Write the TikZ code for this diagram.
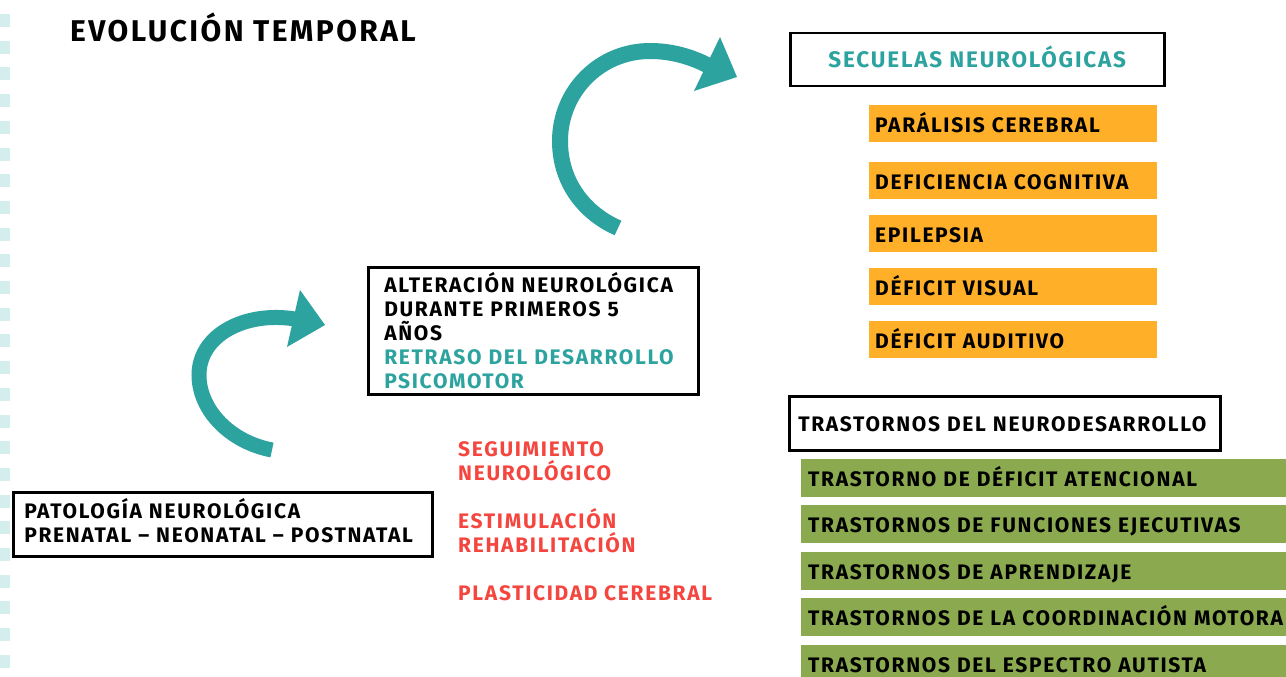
\documentclass[tikz,border=0pt]{standalone}
\usepackage{fontspec}
\setmainfont{Fira Sans}[LetterSpace=8]
\definecolor{tealc}{HTML}{2DA39F}
\definecolor{orng}{HTML}{FFB028}
\definecolor{grn}{HTML}{8BAA4F}
\definecolor{redt}{HTML}{F4463F}
\definecolor{sqc}{HTML}{D4EDED}
\begin{document}
\begin{tikzpicture}[x=1pt,y=-1pt,
  txt/.style={font=\bfseries\fontsize{21}{24}\selectfont},
  frame/.style={draw=black,line width=2.5pt,txt,anchor=north west,align=left},
  bar/.style={txt,anchor=north west,align=left,text height=14.5pt,text depth=0pt},
  orangebar/.style={bar,fill=orng,minimum width=288,minimum height=37,inner xsep=6,text width=276,text height=18pt},
  greenbar/.style={bar,fill=grn,minimum height=38,inner xsep=7,text width=540,text height=16pt},
  bigarrow/.style={draw=tealc,line width=16pt},
  smallarrow/.style={draw=tealc,line width=15pt},
  head/.style={fill=tealc}]
\clip (0,0) rectangle (1286,677);
\fill[white] (0,0) rectangle (1286,677);
% left edge squares
\foreach \k in {0,...,24} \fill[sqc] (0,14+26.7*\k) rectangle (10,27+26.7*\k);

% title
\node[txt,font=\bfseries\fontsize{30}{32}\selectfont,anchor=base west,inner sep=0] (title) at (70,42) {EVOLUCIÓN TEMPORAL};

% boxes
\node[frame,minimum width=419,minimum height=64,inner xsep=11,text width=397] (pat) at (12,491)
  {\mbox{PATOLOGÍA NEUROLÓGICA}\\\mbox{PRENATAL – NEONATAL – POSTNATAL}\rule[-7pt]{0pt}{7pt}};
\node[frame,minimum width=330,minimum height=127,inner xsep=16,text width=298] (alt) at (367,266)
  {\mbox{ALTERACIÓN NEUROLÓGICA}\\\mbox{DURANTE PRIMEROS 5}\\AÑOS\\\mbox{\textcolor{tealc}{RETRASO DEL DESARROLLO}}\\\textcolor{tealc}{PSICOMOTOR}};
\node[frame,align=center,minimum width=374,minimum height=53,text height=16.5pt,text depth=0pt,text=tealc,font=\bfseries\fontsize{22.5}{24}\selectfont] (sec) at (789,32)
  {SECUELAS NEUROLÓGICAS};
\node[frame,minimum width=431,minimum height=54,inner xsep=9,text width=413,text height=15.5pt,text depth=0pt] (tnd) at (788,395)
  {\mbox{TRASTORNOS DEL NEURODESARROLLO}};

% orange bars
\node[orangebar] (o1) at (869,105) {PARÁLISIS CEREBRAL};
\node[orangebar] (o2) at (869,162) {DEFICIENCIA COGNITIVA};
\node[orangebar] (o3) at (869,215) {EPILEPSIA};
\node[orangebar] (o4) at (869,268) {DÉFICIT VISUAL};
\node[orangebar] (o5) at (869,321) {DÉFICIT AUDITIVO};

% green bars
\node[greenbar] (g1) at (801,459) {TRASTORNO DE DÉFICIT ATENCIONAL};
\node[greenbar] (g2) at (801,505) {TRASTORNOS DE FUNCIONES EJECUTIVAS};
\node[greenbar] (g3) at (801,552) {TRASTORNOS DE APRENDIZAJE};
\node[greenbar] (g4) at (801,598) {TRASTORNOS DE LA COORDINACIÓN MOTORA};
\node[greenbar] (g5) at (801,645) {TRASTORNOS DEL ESPECTRO AUTISTA};

% red text
\node[txt,text=redt,anchor=north west,align=left,inner sep=0] (red) at (458,441.5)
  {SEGUIMIENTO\\NEUROLÓGICO\\[24pt]ESTIMULACIÓN\\REHABILITACIÓN\\[24pt]PLASTICIDAD CEREBRAL};

% big arrow
\coordinate (b0) at (618,228);
\coordinate (b1) at (560,141);
\coordinate (b2) at (650,51);
\coordinate (b3) at (709,66);
\draw[bigarrow] (b0) .. controls (582,212) and (560,180) .. (b1)
  .. controls (560,91) and (600,51) .. (b2)
  .. controls (672,51) and (692,57) .. (b3);
\fill[head] (720,37) -- (737,77) -- (694,91) -- cycle;

% small arrow
\coordinate (s0) at (272,450);
\coordinate (s1) at (199,375);
\coordinate (s2) at (295,319);
\draw[smallarrow] (s0) .. controls (230,442) and (199,410) .. (s1)
  .. controls (199,335) and (245,311) .. (s2);
\fill[head] (300,290) -- (325,325) -- (287,347) -- cycle;
\end{tikzpicture}
\end{document}
